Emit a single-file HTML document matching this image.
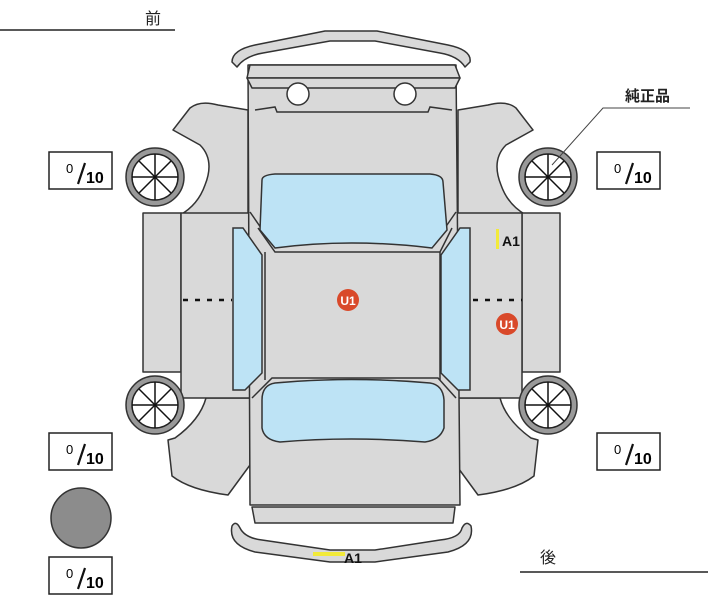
<!DOCTYPE html>
<html><head><meta charset="utf-8"><style>
html,body{margin:0;padding:0;background:#fff;width:711px;height:600px;overflow:hidden}
svg{display:block}
text{font-family:"Liberation Sans","Noto Sans CJK JP",sans-serif}
</style></head><body>
<svg width="711" height="600" viewBox="0 0 711 600" xmlns="http://www.w3.org/2000/svg">
<defs>
<g id="wheel">
<circle r="29" fill="#999" stroke="#333" stroke-width="1.5"/>
<circle r="23" fill="#fff" stroke="#222" stroke-width="1.5"/>
<g stroke="#111" stroke-width="1.5">
<line x1="-23" y1="0" x2="23" y2="0"/><line x1="0" y1="-23" x2="0" y2="23"/>
<line x1="-16" y1="-16" x2="16" y2="16"/><line x1="-16" y1="16" x2="16" y2="-16"/>
</g>
</g>
<g id="box">
<rect x="0" y="0" width="63" height="37" fill="#fff" stroke="#222" stroke-width="1.5"/>
<text x="17" y="21" font-size="13">0</text>
<line x1="29" y1="32" x2="36" y2="11" stroke="#111" stroke-width="2.2"/>
<text x="37" y="31" font-size="16" font-weight="bold">10</text>
</g>
</defs>
<g stroke="#333" stroke-width="1.5" fill="#d9d9d9" stroke-linejoin="round">
<path d="M248,110 L218,105 Q200,100 190,108 L173,130 L200,145 Q215,160 205,185 Q198,205 180,215 L248,215 Z"/>
<path d="M458,110 L488,105 Q506,100 516,108 L533,130 L506,145 Q491,160 501,185 Q508,205 526,215 L458,215 Z"/>
<path d="M250,398 L206,398 Q200,420 175,438 L168,440 L172,476 Q190,490 228,495 L250,465 Z"/>
<path d="M456,398 L500,398 Q506,420 531,438 L538,440 L534,476 Q516,490 478,495 L456,465 Z"/>
<rect x="143" y="213" width="38" height="159"/>
<rect x="181" y="213" width="69" height="185"/>
<rect x="522" y="213" width="38" height="159"/>
<rect x="456" y="213" width="66" height="185"/>
<path d="M232,62 Q232,50 255,45 L325,31 L377,31 L448,45 Q472,50 470,62 L465,67 Q458,56 440,53 L375,41 L330,41 L263,53 Q245,56 237,67 Z"/>
<path d="M248,65 L456,65 L460,505 L250,505 Z"/>
<path d="M250,65 L455,65 L460,78 L247,78 Z"/>
<path d="M247,78 L460,78 L455,88 L252,88 Z"/>
<path d="M252,507 L455,507 L453,523 L255,523 Z"/>
<path d="M232,526 Q228,545 255,552 L330,562 L375,562 L448,552 Q475,545 471,526 Q466,520 462,528 Q460,538 440,540 L375,550 L330,550 L262,540 Q245,538 240,528 Q236,520 232,526 Z"/>
</g>
<g stroke="#333" stroke-width="1.5" fill="none">
<path d="M255,110 L275,107 L277,112 L428,112 L430,107 L452,110"/>
<path d="M258,228 L275,252 L440,252 L452,228"/>
<path d="M250,212 L268,238 M456,212 L438,238"/>
<path d="M265,252 L265,380 M440,252 L440,380"/>
<path d="M252,398 L272,378 L438,378 L456,398"/>
</g>
<circle cx="298" cy="94" r="11" fill="#fff" stroke="#333" stroke-width="1.5"/>
<circle cx="405" cy="94" r="11" fill="#fff" stroke="#333" stroke-width="1.5"/>
<g fill="#bde3f5" stroke="#333" stroke-width="1.5">
<path d="M262,180 Q262,175 275,174 L430,174 Q443,175 443,182 L447,230 L432,248 Q350,238 275,248 L260,230 Z"/>
<path d="M262,400 Q262,385 275,383 Q350,376 430,383 Q443,385 444,400 L444,428 Q440,440 425,442 Q350,436 280,442 Q264,440 262,428 Z"/>
<path d="M233,228 L243,228 L262,255 L262,373 L245,390 L233,390 Z"/>
<path d="M470,228 L460,228 L441,255 L441,373 L458,390 L470,390 Z"/>
</g>
<line x1="183" y1="300" x2="232" y2="300" stroke="#111" stroke-width="2.5" stroke-dasharray="5,7"/>
<line x1="473" y1="300" x2="522" y2="300" stroke="#111" stroke-width="2.5" stroke-dasharray="5,7"/>
<use href="#wheel" x="155" y="177"/>
<use href="#wheel" x="548" y="177"/>
<use href="#wheel" x="155" y="405"/>
<use href="#wheel" x="548" y="405"/>
<circle cx="348" cy="300" r="11" fill="#d9492a"/>
<text x="348" y="305" font-size="12" font-weight="bold" fill="#fff" text-anchor="middle">U1</text>
<circle cx="507" cy="324" r="11" fill="#d9492a"/>
<text x="507" y="329" font-size="12" font-weight="bold" fill="#fff" text-anchor="middle">U1</text>
<rect x="496" y="229" width="3" height="20" fill="#f2ea3a"/>
<text x="502" y="246" font-size="14" font-weight="bold" fill="#111">A1</text>
<rect x="313" y="552" width="32" height="4" fill="#f2ea3a"/>
<text x="344" y="563" font-size="14" font-weight="bold" fill="#111">A1</text>
<text x="145" y="24" font-size="16" fill="#222">前</text>
<line x1="0" y1="30" x2="175" y2="30" stroke="#222" stroke-width="1.5"/>
<text x="540" y="563" font-size="16" fill="#222">後</text>
<line x1="520" y1="572" x2="708" y2="572" stroke="#222" stroke-width="1.5"/>
<text x="625" y="101" font-size="15" font-weight="bold" fill="#222">純正品</text>
<polyline points="690,108 603,108 552,165" fill="none" stroke="#444" stroke-width="1"/>
<use href="#box" x="49" y="152"/>
<use href="#box" x="597" y="152"/>
<use href="#box" x="49" y="433"/>
<use href="#box" x="597" y="433"/>
<use href="#box" x="49" y="557"/>
<circle cx="81" cy="518" r="30" fill="#8c8c8c" stroke="#333" stroke-width="1.5"/>
</svg>
</body></html>
